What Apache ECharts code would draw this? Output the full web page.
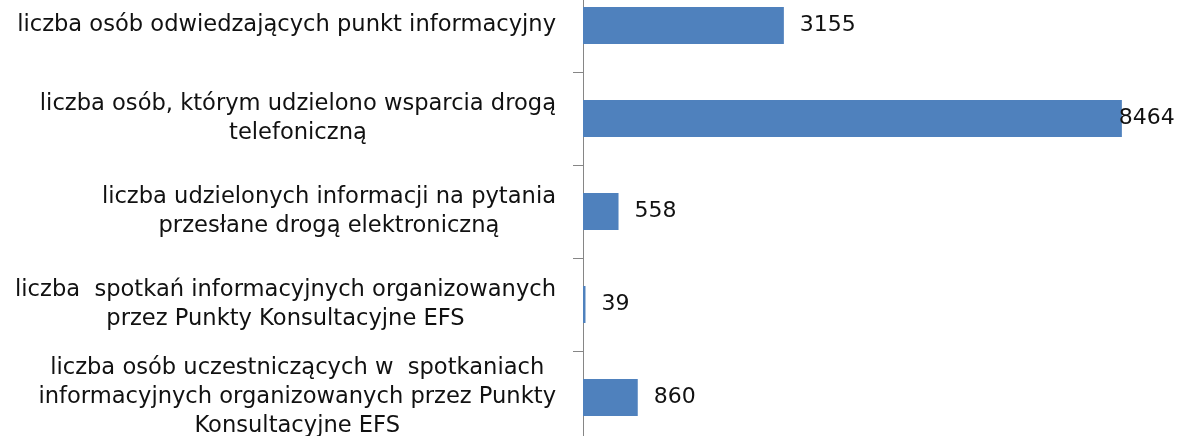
<!DOCTYPE html>
<html>
<head>
<meta charset="utf-8">
<script src="https://cdn.jsdelivr.net/npm/echarts@6/dist/echarts.min.js"></script>
<style>
html,body{margin:0;padding:0;background:#fff;}
#chart{width:1182px;height:436px;}
</style>
</head>
<body>
<div id="chart"></div>
<script>
const categories = [
  "liczba osób odwiedzających punkt informacyjny",
  "liczba osób, którym udzielono wsparcia drogą\ntelefoniczną",
  "liczba udzielonych informacji na pytania\nprzesłane drogą elektroniczną",
  "liczba  spotkań informacyjnych organizowanych\nprzez Punkty Konsultacyjne EFS",
  "liczba osób uczestniczących w  spotkaniach\ninformacyjnych organizowanych przez Punkty\nKonsultacyjne EFS"
];
const values = [3155, 8464, 558, 39, 860];

const maxVal = Math.max.apply(null, values);
const chart = echarts.init(document.getElementById('chart'), null, {renderer: 'canvas'});
chart.setOption({
  animation: false,
  backgroundColor: '#ffffff',
  grid: {left: 583, top: -21, height: 465, width: 573, outerBoundsMode: 'none'},
  xAxis: {
    type: 'value', min: 0, max: 9000,
    show: false
  },
  yAxis: {
    type: 'category',
    inverse: true,
    data: categories,
    axisLine: {show: true, lineStyle: {color: '#868686', width: 1}},
    axisTick: {show: true, length: 10, lineStyle: {color: '#868686'}},
    axisLabel: {
      margin: 27,
      fontFamily: 'DejaVu Sans',
      fontSize: 22.6,
      color: '#111',
      lineHeight: 29,
      formatter: function (v) {
        return v.split('\n').map(function (l) { return '{c|' + l + '}'; }).join('\n');
      },
      rich: {c: {align: 'center', fontFamily: 'DejaVu Sans', fontSize: 22.6, lineHeight: 29, color: '#111'}}
    }
  },
  series: [{
    type: 'bar',
    barWidth: 37,
    itemStyle: {color: '#4F81BD'},
    data: values.map(function (v) {
      return v === maxVal ? {value: v, label: {distance: -3}} : v;
    }),
    label: {
      show: true,
      position: 'right',
      distance: 16,
      fontFamily: 'DejaVu Sans',
      fontSize: 22,
      color: '#111'
    }
  }]
});
</script>
</body>
</html>
